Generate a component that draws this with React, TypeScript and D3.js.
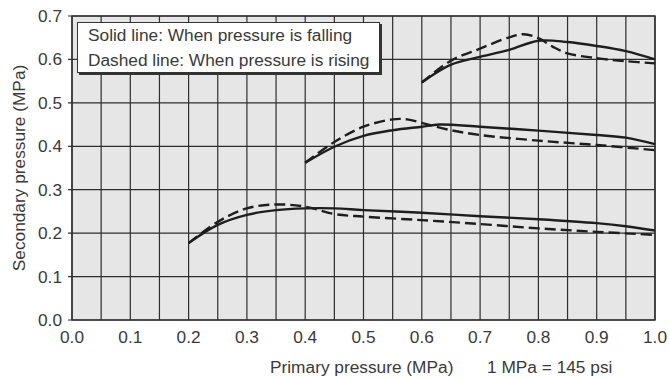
import React from "react";
import * as d3 from "d3";

const xTicks = [0, 0.1, 0.2, 0.3, 0.4, 0.5, 0.6, 0.7, 0.8, 0.9, 1.0];
const yTicks = [0, 0.1, 0.2, 0.3, 0.4, 0.5, 0.6, 0.7];
const xGrid = d3.range(0, 21).map((i) => i * 0.05);

const topSolidX = [0.60, 0.65, 0.70, 0.75, 0.80, 0.85, 0.90, 0.95, 1.00];
const topSolidY = [0.547, 0.588, 0.606, 0.622, 0.643, 0.640, 0.631, 0.619, 0.600];
const topDashX = [0.60, 0.65, 0.70, 0.75, 0.775, 0.80, 0.825, 0.85, 0.90, 0.95, 1.00];
const topDashY = [0.547, 0.597, 0.625, 0.651, 0.658, 0.649, 0.629, 0.614, 0.603, 0.596, 0.591];

const midSolidX = [0.40, 0.45, 0.50, 0.55, 0.60, 0.63, 0.70, 0.80, 0.90, 0.95, 1.00];
const midSolidY = [0.362, 0.399, 0.424, 0.437, 0.445, 0.450, 0.445, 0.436, 0.426, 0.420, 0.405];
const midDashX = [0.40, 0.45, 0.50, 0.55, 0.575, 0.60, 0.65, 0.70, 0.80, 0.90, 1.00];
const midDashY = [0.362, 0.410, 0.445, 0.462, 0.462, 0.454, 0.437, 0.426, 0.413, 0.403, 0.391];

const lowSolidX = [0.20, 0.25, 0.30, 0.35, 0.40, 0.45, 0.50, 0.60, 0.70, 0.80, 0.90, 0.95, 1.00];
const lowSolidY = [0.177, 0.219, 0.242, 0.253, 0.257, 0.257, 0.253, 0.247, 0.239, 0.232, 0.223, 0.216, 0.206];
const lowDashX = [0.20, 0.25, 0.30, 0.35, 0.40, 0.45, 0.50, 0.60, 0.70, 0.80, 0.90, 1.00];
const lowDashY = [0.177, 0.226, 0.257, 0.266, 0.261, 0.244, 0.238, 0.230, 0.221, 0.211, 0.203, 0.196];

const legendLines = [
  "Solid line: When pressure is falling",
  "Dashed line: When pressure is rising",
];

const series = [
  { xs: topSolidX, ys: topSolidY, dashed: false },
  { xs: topDashX, ys: topDashY, dashed: true },
  { xs: midSolidX, ys: midSolidY, dashed: false },
  { xs: midDashX, ys: midDashY, dashed: true },
  { xs: lowSolidX, ys: lowSolidY, dashed: false },
  { xs: lowDashX, ys: lowDashY, dashed: true },
];

const W = 670;
const H = 380;
const L = 72, R = 655, T = 16, B = 320;
const FONT = "'Liberation Sans', Arial, Helvetica, sans-serif";
const TEXT = "#3a3a3a";
const GRID = "#2e2e2e";
const FS = 17.3;

export default function App() {
  const x = d3.scaleLinear().domain([0, 1]).range([L, R]);
  const y = d3.scaleLinear().domain([0, 0.7]).range([B, T]);
  const line = d3
    .line<[number, number]>()
    .x((d) => x(d[0]))
    .y((d) => y(d[1]))
    .curve(d3.curveCatmullRom.alpha(0.5));

  return (
    <div style={{ position: "absolute", left: 0, top: 0 }}>
      <svg width={W} height={H} style={{ display: "block", background: "#fff" }} fontFamily={FONT}>
        <rect x={L} y={T} width={R - L} height={B - T} fill="#e6e6e6" />
        {xGrid.map((v, i) => (
          <line key={"xg" + i} x1={x(v)} x2={x(v)} y1={T} y2={B} stroke={GRID} strokeWidth={1.2} />
        ))}
        {yTicks.map((v, i) => (
          <line key={"yg" + i} x1={L - 4} x2={R} y1={y(v)} y2={y(v)} stroke={GRID} strokeWidth={1.2} />
        ))}
        <rect x={L} y={T} width={R - L} height={B - T} fill="none" stroke={GRID} strokeWidth={1.4} />

        {series.map((s, i) => (
          <path
            key={"s" + i}
            d={line(s.xs.map((v, j) => [v, s.ys[j]] as [number, number])) || ""}
            fill="none"
            stroke="#1e1e1e"
            strokeWidth={2.4}
            strokeDasharray={s.dashed ? "11,5" : undefined}
            strokeLinecap="butt"
          />
        ))}

        {/* legend */}
        <rect x={79} y={24} width={303} height={51} fill="#333" />
        <rect x={77.5} y={22.5} width={302} height={50} fill="#fff" stroke="#333" strokeWidth={1} />
        {legendLines.map((t, i) => (
          <text key={"lg" + i} x={88} y={35 + i * 25} dy="0.35em" fontSize={FS} fill={TEXT}>
            {t}
          </text>
        ))}

        {yTicks.map((v, i) => (
          <text key={"yt" + i} x={62} y={y(v)} dy="0.35em" textAnchor="end" fontSize={FS} fill={TEXT}>
            {v.toFixed(1)}
          </text>
        ))}
        {xTicks.map((v, i) => (
          <text key={"xt" + i} x={x(v)} y={337} dy="0.35em" textAnchor="middle" fontSize={FS} fill={TEXT}>
            {v.toFixed(1)}
          </text>
        ))}
        <text
          transform={`translate(19,${(T + B) / 2}) rotate(-90)`}
          textAnchor="middle"
          dy="0.35em"
          fontSize={FS}
          fill={TEXT}
        >
          Secondary pressure (MPa)
        </text>
        <text x={270} y={367} dy="0.35em" fontSize={FS} fill={TEXT}>
          Primary pressure (MPa)
        </text>
        <text x={487} y={367} dy="0.35em" fontSize={FS} fill={TEXT}>
          1 MPa = 145 psi
        </text>
      </svg>
    </div>
  );
}
